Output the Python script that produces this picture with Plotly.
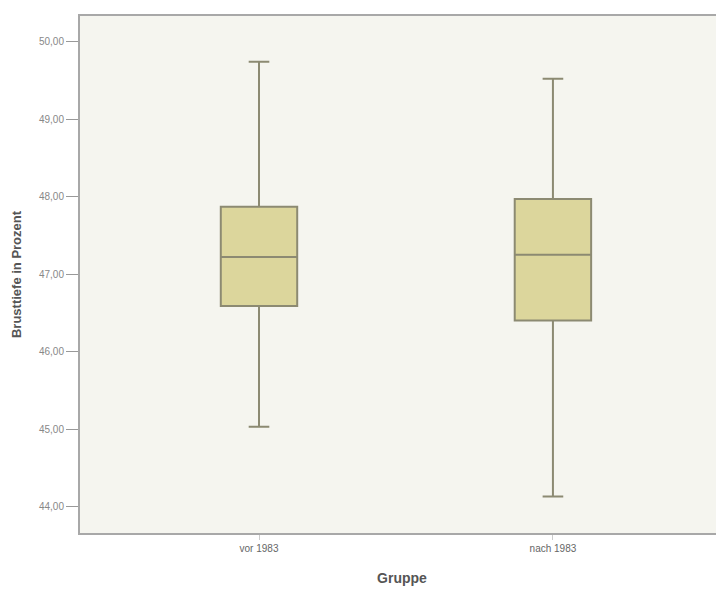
import plotly.graph_objects as go

groups = ["vor 1983", "nach 1983"]
lower_whisker = [45.03, 44.13]
q1_values = [46.59, 46.40]
medians = [47.22, 47.25]
q3_values = [47.87, 47.97]
upper_whisker = [49.74, 49.52]
y_ticks = [44, 45, 46, 47, 48, 49, 50]
y_tick_labels = ["44,00", "45,00", "46,00", "47,00", "48,00", "49,00", "50,00"]

fig = go.Figure()
fig.add_trace(go.Box(
    x=groups,
    q1=q1_values,
    median=medians,
    q3=q3_values,
    lowerfence=lower_whisker,
    upperfence=upper_whisker,
    fillcolor="#dcd69c",
    line=dict(color="#8c8a72", width=2),
    width=0.26,
    whiskerwidth=0.27,
    boxpoints=False,
    hoverinfo="skip",
    showlegend=False,
))

fig.update_layout(
    width=724, height=589,
    margin=dict(l=72, r=8, t=6, b=64),
    paper_bgcolor="white",
    plot_bgcolor="#f5f5ef",
    font=dict(family="Liberation Sans, Arial, sans-serif", color="#555555"),
    xaxis=dict(
        range=[-0.609, 1.582],
        showgrid=False, zeroline=False,
        showline=True, linecolor="#a8a8a8", linewidth=2, mirror=True,
        ticks="outside", ticklen=5, tickcolor="#cccccc",
        tickfont=dict(size=10, color="#666666"),
        title=dict(text="<b>Gruppe</b>", font=dict(size=14, color="#555555"), standoff=20),
    ),
    yaxis=dict(
        range=[43.66, 50.33],
        tickvals=y_ticks, ticktext=y_tick_labels,
        showgrid=False, zeroline=False,
        showline=True, linecolor="#a8a8a8", linewidth=2,
        ticks="outside", ticklen=12, tickcolor="#999999",
        tickfont=dict(size=10, color="#888888"),
        title=dict(text="<b>Brusttiefe in Prozent</b>", font=dict(size=13, color="#555555"), standoff=14),
    ),
)

fig.write_html("out.html")
